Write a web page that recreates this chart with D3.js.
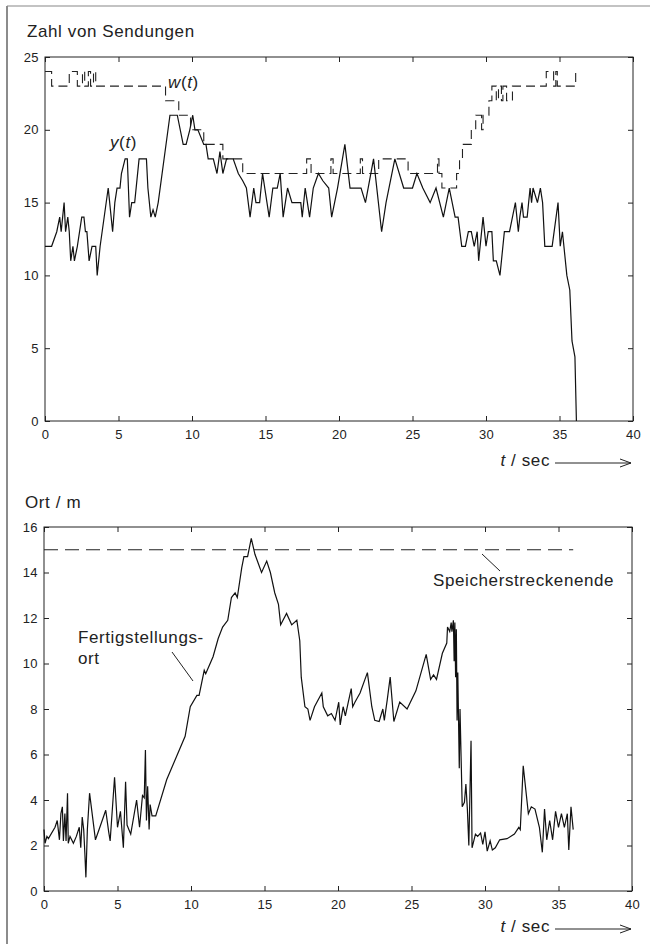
<!DOCTYPE html>
<meta charset="utf-8">
<style>
body { margin: 0; background: #fff; }
svg { display: block; }
text { font-family: "Liberation Sans", Arial, sans-serif; fill: #222; }
.tick text { font-size: 13px; letter-spacing: 0.4px; }
.lbl { font-size: 17px; letter-spacing: 0.6px; }
.frame { fill: none; stroke: #222; stroke-width: 1; }
.axis path { display: none; }
.axis line { stroke: #222; }
</style>
<svg width="650" height="944"></svg>
<script src="https://d3js.org/d3.v7.min.js"></script>
<script>

// time ticks shared by both panels
var xTicks = [0, 5, 10, 15, 20, 25, 30, 35, 40];
var countTicks = [0, 5, 10, 15, 20, 25];
var posTicks = [0, 2, 4, 6, 8, 10, 12, 14, 16];

// y(t): Zahl von Sendungen, [t, value]
var yData = [[0,12],[0.45,12],[0.8,13],[1.0,14],[1.1,13],[1.2,14],[1.3,15],[1.4,13],[1.55,14],[1.65,13],
  [1.75,11],[1.9,12],[2.0,11],[2.2,12],[2.5,14],[2.65,14],[2.75,13],[2.85,13],[3.0,11],[3.2,12],[3.45,12],
  [3.55,10],[3.75,12],[4.3,16],[4.5,14],[4.6,13],[4.75,15],[4.9,16],[5.1,16],[5.2,17],[5.45,18],[5.6,18],
  [5.75,14],[5.9,15],[6.1,15],[6.4,18],[6.9,18],[7.0,16],[7.2,14],[7.35,14.5],[7.5,14],[7.7,15],[8.5,21],
  [9.0,21],[9.4,19],[9.6,19],[9.85,20],[10.05,21],[10.2,20],[10.4,20],[10.8,19],[10.95,19],[11.1,18],
  [11.45,18],[11.7,17],[11.9,18.5],[12.1,17],[12.35,18],[12.8,18],[13.15,17],[13.45,16.5],[13.7,16],
  [13.95,14],[14.2,16],[14.35,15],[14.6,15],[14.8,17],[15.1,15],[15.25,14],[15.5,16],[15.8,16],[16.0,17],
  [16.2,14],[16.5,16],[16.8,15],[17.4,15],[17.5,14],[17.7,16],[18.0,14],[18.25,16],[18.6,17],[18.9,16.5],
  [19.3,16],[19.5,14],[19.9,16],[20.4,19],[20.75,16],[21.5,16],[21.8,15],[22.35,18],[22.9,13],[23.2,15],
  [23.8,18],[24.4,16],[25.0,16],[25.3,17],[25.7,16],[26.2,15],[26.6,16],[27.1,14],[27.5,16],[27.9,14],
  [28.1,14],[28.35,12],[28.6,12],[28.8,13],[29.0,13],[29.2,12],[29.4,13],[29.5,11],[29.8,14],[30.0,12],
  [30.15,13],[30.4,13],[30.5,11],[30.7,11],[30.95,10],[31.25,13],[31.6,13],[32.0,15],[32.2,13],[32.3,14],
  [32.45,15],[32.55,14],[32.8,14],[33.0,16],[33.1,15],[33.2,16],[33.5,15],[33.7,16],[33.85,15],[34.0,12],
  [34.5,12],[34.9,15],[35.05,12],[35.2,13],[35.5,10],[35.7,9],[35.85,5.5],[36.05,4.4],[36.15,0]];

// w(t): steps, value holds from t until next t
var wData = [[0,24],[0.45,23],[1.65,24],[2.2,23],[2.55,24],[2.7,23],[2.95,24],[3.1,23],[3.3,24],[3.45,23],
  [8.2,22],[9.1,21],[9.9,20],[10.8,19],[12.1,18],[13.45,17],[17.8,18],[18.1,17],[19.45,18],[19.6,17],
  [21.45,18],[21.6,17],[22.7,18],[24.7,17],[26.7,18],[26.8,17],[27.0,16],[28.0,17],[28.2,18],[28.4,19],
  [29.0,20],[29.3,21],[29.7,20],[29.8,21],[30.2,22],[30.4,23],[30.7,22],[30.85,23],[31.05,22],[31.15,23],
  [31.4,22],[31.8,23],[34.1,24],[34.6,23],[34.75,24],[34.85,23],[36.1,24],[36.2,24]];

// Fertigstellungsort, [t, m]
var posData = [[0,2.7],[0.07,2.1],[0.2,2.4],[0.3,2.3],[0.75,2.8],[0.9,3.1],[1.05,2.25],[1.15,3.4],[1.25,3.7],
  [1.32,2.2],[1.42,3.4],[1.5,2.2],[1.6,4.3],[1.65,2.1],[1.77,2.4],[2.0,2.1],[2.2,2.4],[2.4,2.8],[2.5,1.9],
  [2.6,3.25],[2.7,2.7],[2.78,1.65],[2.85,0.6],[2.95,2.7],[3.1,4.3],[3.5,2.25],[3.8,2.8],[4.2,3.55],[4.4,2.6],
  [4.5,2.2],[4.8,5.0],[5.0,2.8],[5.2,3.5],[5.4,1.9],[5.55,4.8],[5.65,2.9],[5.9,2.5],[6.3,4.0],[6.5,2.8],
  [6.7,4.2],[6.82,4.1],[6.9,6.2],[6.97,3.1],[7.05,4.6],[7.15,2.7],[7.22,3.8],[7.35,3.3],[7.6,3.3],[8.35,4.9],
  [9.6,6.8],[9.95,8.1],[10.4,8.6],[10.55,8.6],[10.9,9.7],[11.0,9.55],[11.5,10.3],[11.85,11.1],[12.15,11.6],
  [12.5,11.9],[12.75,12.9],[13.0,13.1],[13.15,12.9],[13.45,14.2],[13.6,14.7],[13.85,14.7],[14.1,15.5],
  [14.35,14.8],[14.8,14.0],[15.15,14.5],[15.4,14.0],[15.7,13.1],[15.95,12.6],[16.1,11.7],[16.5,12.2],
  [16.85,11.7],[17.2,11.9],[17.4,11.0],[17.5,9.4],[17.75,8.1],[17.95,8.0],[18.1,7.5],[18.4,8.1],[18.9,8.7],
  [19.0,8.1],[19.3,7.7],[19.55,7.8],[19.8,7.5],[20.05,8.3],[20.15,7.3],[20.35,8.1],[20.5,7.7],[20.7,8.3],
  [20.9,8.9],[21.0,8.1],[21.15,8.3],[21.5,8.7],[22.0,9.6],[22.3,8.1],[22.5,7.5],[22.8,7.45],[23.05,8.0],
  [23.15,7.5],[23.35,8.4],[23.55,9.4],[23.8,7.45],[24.2,8.3],[24.7,8.0],[25.3,8.8],[26.0,10.4],[26.3,9.3],
  [26.5,9.5],[26.7,9.3],[27.1,10.45],[27.4,10.9],[27.45,11.6],[27.6,11.4],[27.7,11.8],[27.75,11.4],
  [27.85,11.9],[27.9,10.1],[27.95,11.8],[28.0,9.4],[28.05,11.5],[28.1,7.5],[28.15,9.6],[28.25,5.4],
  [28.3,8.0],[28.45,3.7],[28.6,3.9],[28.7,4.7],[28.8,3.6],[28.9,2.0],[29.05,6.6],[29.12,1.9],[29.35,2.5],
  [29.5,2.4],[29.7,2.55],[29.85,2.05],[30.0,2.6],[30.15,1.75],[30.35,2.2],[30.5,1.8],[30.7,1.9],[31.0,2.25],
  [31.5,2.3],[32.0,2.5],[32.3,2.8],[32.4,2.7],[32.6,5.5],[32.85,4.0],[32.95,3.4],[33.15,3.7],[33.4,3.6],
  [33.7,2.8],[33.9,1.7],[34.05,3.6],[34.2,2.25],[34.4,3.1],[34.6,2.25],[34.8,3.5],[35.0,2.8],[35.2,3.4],
  [35.4,2.8],[35.6,3.4],[35.7,1.8],[35.85,3.7],[36.0,2.7]];

// Speicherstreckenende
var endLine = [[0,15],[36,15]];

var svg = d3.select("svg");

// scan border
svg.append("line").attr("x1", 7).attr("y1", 6).attr("x2", 7).attr("y2", 944)
    .attr("stroke", "#666").attr("stroke-width", 1.5);
svg.append("line").attr("x1", 7).attr("y1", 6).attr("x2", 650).attr("y2", 6)
    .attr("stroke", "#888").attr("stroke-width", 1.2);

function panel(left, right, top, bottom, yMax, yTicks) {
  var x = d3.scaleLinear().domain([0, 40]).range([left, right]);
  var y = d3.scaleLinear().domain([0, yMax]).range([bottom, top]);

  svg.append("g").attr("class", "axis").attr("transform", "translate(0," + bottom + ")")
      .call(d3.axisBottom(x).tickValues(xTicks).tickSize(-5).tickSizeOuter(0).tickPadding(9));
  svg.append("g").attr("class", "axis").attr("transform", "translate(0," + top + ")")
      .call(d3.axisTop(x).tickValues(xTicks).tickSize(-5).tickSizeOuter(0).tickFormat(""));
  svg.append("g").attr("class", "axis").attr("transform", "translate(" + left + ",0)")
      .call(d3.axisLeft(y).tickValues(yTicks).tickSize(-5).tickSizeOuter(0).tickPadding(6));
  svg.append("g").attr("class", "axis").attr("transform", "translate(" + right + ",0)")
      .call(d3.axisRight(y).tickValues(yTicks).tickSize(-5).tickSizeOuter(0).tickFormat(""));

  svg.append("rect").attr("class", "frame")
      .attr("x", left).attr("y", top).attr("width", right - left).attr("height", bottom - top);
  return {x: x, y: y};
}

// ---- top: Zahl von Sendungen
var p1 = panel(45, 633, 57, 421, 25, countTicks);
var line1 = d3.line().x(function(d) { return p1.x(d[0]); }).y(function(d) { return p1.y(d[1]); });

svg.append("path").datum(wData)
    .attr("d", line1.curve(d3.curveStepAfter))
    .attr("fill", "none").attr("stroke", "#222").attr("stroke-width", 1.1)
    .attr("stroke-dasharray", "9,5");
svg.append("path").datum(yData)
    .attr("d", line1.curve(d3.curveLinear))
    .attr("fill", "none").attr("stroke", "#111").attr("stroke-width", 1.2);

svg.append("text").attr("class", "lbl").attr("x", 27).attr("y", 37).text("Zahl von Sendungen");

var yl = svg.append("text").attr("class", "lbl").attr("x", 110).attr("y", 148);
yl.append("tspan").style("font-style", "italic").text("y");
yl.append("tspan").text("(");
yl.append("tspan").style("font-style", "italic").text("t");
yl.append("tspan").text(")");

var wl = svg.append("text").attr("class", "lbl").attr("x", 168).attr("y", 88);
wl.append("tspan").style("font-style", "italic").text("w");
wl.append("tspan").text("(");
wl.append("tspan").style("font-style", "italic").text("t");
wl.append("tspan").text(")");

// ---- bottom: Ort / m
var p2 = panel(44, 632, 527, 891, 16, posTicks);
var line2 = d3.line().x(function(d) { return p2.x(d[0]); }).y(function(d) { return p2.y(d[1]); });

svg.append("path").datum(endLine)
    .attr("d", line2)
    .attr("fill", "none").attr("stroke", "#222").attr("stroke-width", 1.1)
    .attr("stroke-dasharray", "14,7");
svg.append("path").datum(posData)
    .attr("d", line2)
    .attr("fill", "none").attr("stroke", "#111").attr("stroke-width", 1.2);

svg.append("text").attr("class", "lbl").attr("x", 25).attr("y", 508).text("Ort / m");

svg.append("text").attr("class", "lbl").attr("x", 78).attr("y", 643).text("Fertigstellungs-");
svg.append("text").attr("class", "lbl").attr("x", 78).attr("y", 664).text("ort");
svg.append("line").attr("x1", 172).attr("y1", 652).attr("x2", 193).attr("y2", 681)
    .attr("stroke", "#222").attr("stroke-width", 1);

svg.append("text").attr("class", "lbl").attr("x", 433).attr("y", 586).text("Speicherstreckenende");
svg.append("line").attr("x1", 482).attr("y1", 554).attr("x2", 500).attr("y2", 571)
    .attr("stroke", "#222").attr("stroke-width", 1);

// t / sec with arrow, under each panel
[[466, 463], [932, 929]].forEach(function(pos) {
  var t = svg.append("text").attr("class", "lbl").attr("x", 550).attr("y", pos[0])
      .attr("text-anchor", "end");
  t.append("tspan").style("font-style", "italic").text("t");
  t.append("tspan").text(" / sec");
  svg.append("line").attr("x1", 555).attr("y1", pos[1]).attr("x2", 631).attr("y2", pos[1])
      .attr("stroke", "#222").attr("stroke-width", 1);
  svg.append("path").attr("d", "M620," + (pos[1] - 4) + "L631," + pos[1] + "L620," + (pos[1] + 4))
      .attr("fill", "none").attr("stroke", "#222").attr("stroke-width", 1);
});

</script>
